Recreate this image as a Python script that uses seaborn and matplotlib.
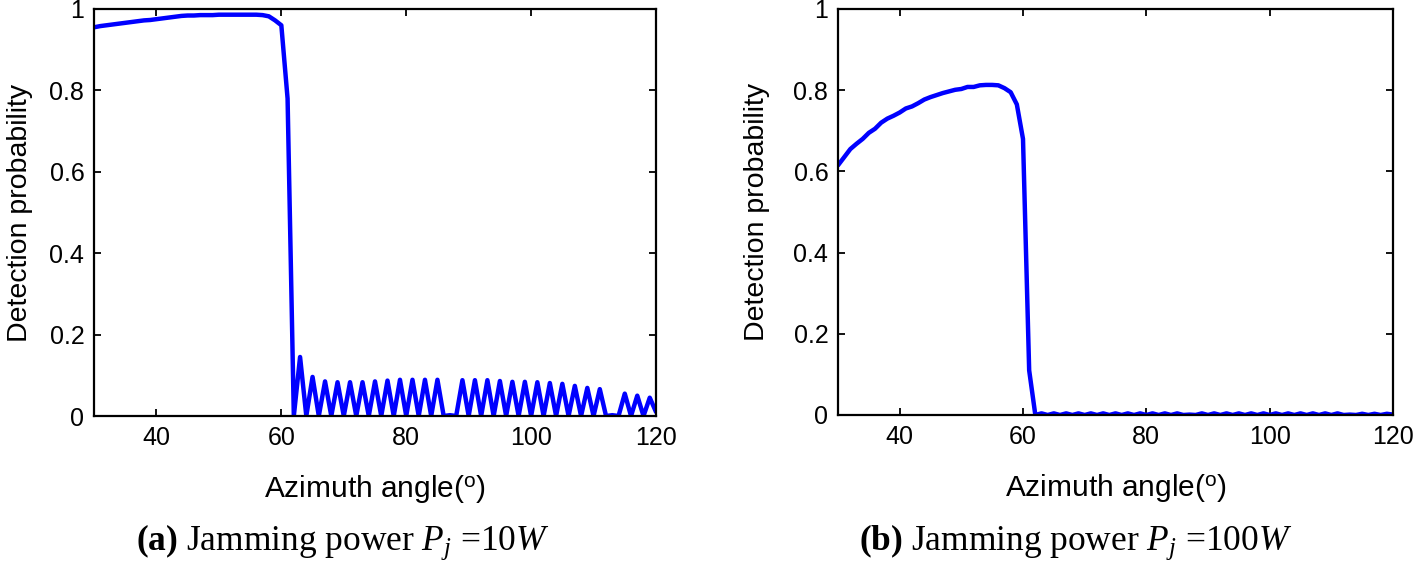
import numpy as np
import pandas as pd
import matplotlib
matplotlib.use("Agg")
import matplotlib.pyplot as plt
import seaborn as sns

# ---------------- data ----------------
angles = list(range(30, 121))

pd_10w_head = [0.955, 0.958, 0.960, 0.962, 0.964, 0.966, 0.968, 0.970, 0.972, 0.973,
               0.975, 0.977, 0.979, 0.981, 0.983, 0.984, 0.984, 0.985, 0.985, 0.985,
               0.986, 0.986, 0.986, 0.986, 0.986, 0.986, 0.986, 0.985, 0.982, 0.972,
               0.960, 0.780, 0.0]
pd_10w_tail = [0.145, 0.0, 0.096, 0.0, 0.085, 0.0, 0.083, 0.0, 0.083, 0.0,
               0.083, 0.0, 0.085, 0.0, 0.087, 0.0, 0.089, 0.0, 0.089, 0.0,
               0.089, 0.0, 0.089, 0.0, 0.002, 0.0, 0.088, 0.0, 0.088, 0.0,
               0.088, 0.0, 0.086, 0.0, 0.084, 0.0, 0.084, 0.0, 0.083, 0.0,
               0.081, 0.0, 0.079, 0.0, 0.074, 0.0, 0.069, 0.0, 0.066, 0.0,
               0.002, 0.0, 0.055, 0.0, 0.050, 0.0, 0.045, 0.010]
pd_10w = pd_10w_head + pd_10w_tail

pd_100w_head = [0.615, 0.635, 0.655, 0.668, 0.680, 0.695, 0.705, 0.720, 0.730, 0.737,
                0.745, 0.755, 0.760, 0.768, 0.777, 0.783, 0.788, 0.793, 0.797, 0.801,
                0.803, 0.808, 0.808, 0.812, 0.813, 0.813, 0.812, 0.805, 0.795, 0.765,
                0.680, 0.110, 0.0]
pd_100w_tail = [0.004, 0.0, 0.004, 0.0, 0.004, 0.0, 0.004, 0.0, 0.004, 0.0,
                0.004, 0.0, 0.004, 0.0, 0.004, 0.0, 0.004, 0.0, 0.004, 0.0,
                0.004, 0.0, 0.004, 0.0, 0.001, 0.0, 0.004, 0.0, 0.004, 0.0,
                0.004, 0.0, 0.004, 0.0, 0.004, 0.0, 0.004, 0.0, 0.004, 0.0,
                0.004, 0.0, 0.004, 0.0, 0.004, 0.0, 0.004, 0.0, 0.004, 0.0,
                0.001, 0.0, 0.003, 0.0, 0.003, 0.0, 0.003, 0.001]
pd_100w = pd_100w_head + pd_100w_tail

x_ticks = [40, 60, 80, 100, 120]
y_ticks = [0, 0.2, 0.4, 0.6, 0.8, 1]
y_ticklabels = ["0", "0.2", "0.4", "0.6", "0.8", "1"]
captions = [r"$\mathbf{(a)}$ Jamming power $P_j$ =10$W$",
            r"$\mathbf{(b)}$ Jamming power $P_j$ =100$W$"]

# ---------------- style ----------------
sns.set_style("ticks")
plt.rcParams["font.family"] = ["Liberation Sans", "DejaVu Sans"]
plt.rcParams["mathtext.fontset"] = "custom"
plt.rcParams["mathtext.rm"] = "Liberation Sans"
plt.rcParams["mathtext.it"] = "Liberation Serif:italic"
plt.rcParams["mathtext.bf"] = "Liberation Serif:bold"
plt.rcParams["text.color"] = "black"
plt.rcParams["axes.labelcolor"] = "black"
plt.rcParams["xtick.color"] = "black"
plt.rcParams["ytick.color"] = "black"

fig = plt.figure(figsize=(14.18, 5.62), dpi=100)
axes_rects = [
    [94 / 1418, (562 - 416) / 562, (656 - 94) / 1418, (416 - 9) / 562],
    [838 / 1418, (562 - 415) / 562, (1393 - 838) / 1418, (415 - 9) / 562],
]
ylabel_x = [-0.108, -0.122]
caption_x = [343 / 1418, 1076 / 1418]

for i, (rect, values) in enumerate(zip(axes_rects, [pd_10w, pd_100w])):
    ax = fig.add_axes(rect)
    df = pd.DataFrame({"angle": angles, "pd": values})
    sns.lineplot(data=df, x="angle", y="pd", ax=ax, color="#0000ff",
                 linewidth=3.2, estimator=None)
    ax.set_xlim(30, 120)
    ax.set_ylim(0, 1)
    ax.set_xticks(x_ticks)
    ax.set_yticks(y_ticks)
    ax.set_yticklabels(y_ticklabels)
    ax.tick_params(direction="in", length=5, width=1.3, top=True, right=True,
                   labelsize=18, pad=7, colors="black")
    for s in ax.spines.values():
        s.set_visible(True)
        s.set_color("black")
        s.set_linewidth(1.6)
    ax.set_xlabel(r"Azimuth angle($^{\mathrm{o}}$)", fontsize=21.5)
    ax.set_ylabel("Detection probability", fontsize=20.5)
    ax.xaxis.set_label_coords(0.5, -0.14)
    ax.yaxis.set_label_coords(ylabel_x[i], 0.5)
    fig.text(caption_x[i], (562 - 542) / 562, captions[i], ha="center", va="center",
             fontsize=25.5, family="Liberation Serif")

fig.savefig("out.png", dpi=100)
